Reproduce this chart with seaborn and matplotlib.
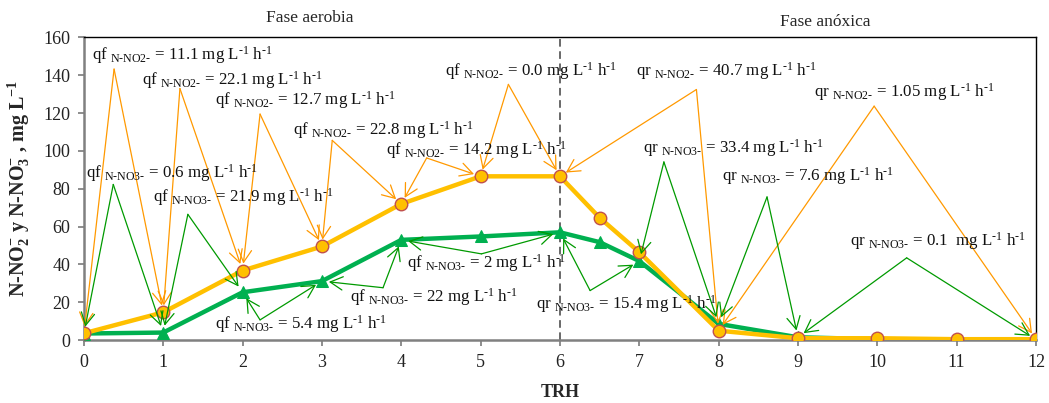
import pandas as pd
import seaborn as sns
import matplotlib.pyplot as plt

# ---- datos ----
trh = [0, 1, 2, 3, 4, 5, 6, 6.5, 7, 8, 9, 10, 11, 12]
no2 = [3.6, 14.7, 36.8, 49.5, 72.0, 86.6, 86.6, 64.7, 46.5, 5.0, 1.0, 1.0, 0.5, 0.5]
no3 = [3.5, 4.0, 25.3, 31.2, 53.0, 54.8, 57.0, 51.8, 41.8, 8.6, 1.5, 0.5, 0.3, 0.3]

# textos de las velocidades (NO2 naranja, NO3 verde)
no2_labels = ["qf", "qf", "qf", "qf", "qf", "qf", "qr", "qr"]
no2_rates = ["11.1", "22.1", "12.7", "22.8", "14.2", "0.0", "40.7", "1.05"]
no2_pairs = [(0, 1), (1, 2), (2, 3), (3, 4), (4, 5), (5, 6), (6, 9), (9, 13)]

no3_labels = ["qf", "qf", "qf", "qf", "qf", "qr", "qr", "qr", "qr"]
no3_rates = ["0.6", "21.9", "5.4", "22", "2", "15.4", "33.4", "7.6", "0.1 "]
no3_pairs = [(0, 1), (1, 2), (2, 3), (3, 4), (4, 6), (6, 8), (8, 9), (9, 10), (10, 13)]

# posiciones de los textos y vertices de las flechas (coordenadas de datos)
no2_text_pos = [(0.10, 150.7), (0.73, 137.5), (1.65, 126.9), (2.63, 111.0),
                (3.81, 100.4), (4.55, 142.3), (6.96, 142.3), (9.20, 131.1)]
no2_vertex = [(0.38, 143.3), (1.21, 133.0), (2.22, 119.5), (3.13, 105.6),
              (4.32, 96.3), (5.35, 135.2), (7.72, 132.5), (9.96, 123.7)]
no3_text_pos = [(0.025, 88.1), (0.87, 75.4), (1.65, 8.7), (3.35, 23.0), (4.07, 41.0),
                (5.70, 19.3), (7.05, 101.5), (8.04, 86.6), (9.66, 52.2)]
no3_vertex = [(0.37, 82.3), (1.31, 66.5), (2.22, 10.7), (3.77, 27.7), (5.01, 45.6),
              (6.38, 26.2), (7.31, 94.2), (8.61, 75.7), (10.37, 43.5)]

df = pd.DataFrame({"TRH": trh, "NO2": no2, "NO3": no3})

sns.set_theme(style="white")
plt.rcParams["font.family"] = ["Liberation Serif", "DejaVu Serif"]
plt.rcParams["mathtext.fontset"] = "custom"
plt.rcParams["mathtext.rm"] = "Liberation Serif"
plt.rcParams["mathtext.it"] = "Liberation Serif:italic"
plt.rcParams["mathtext.bf"] = "Liberation Serif:bold"

fig = plt.figure(figsize=(10.49, 4.03), dpi=100)
ax = fig.add_axes([0.080, 0.156, 0.9076, 0.751])

orange = "#FFC000"
green = "#00B050"
arrow_orange = "#FF9900"
arrow_green = "#009A00"

sns.lineplot(data=df, x="TRH", y="NO3", ax=ax, color=green, lw=3.2,
             marker="^", markersize=9, markeredgecolor=green, zorder=3)
sns.lineplot(data=df, x="TRH", y="NO2", ax=ax, color=orange, lw=3.2,
             marker="o", markersize=9, markeredgecolor="#C0504D",
             markeredgewidth=1.0, zorder=4)

ax.axvline(6, color="#404040", ls=(0, (5, 3)), lw=1.1, zorder=2)

ax.set_xlim(0, 12)
ax.set_ylim(0, 160)
ax.set_xticks(range(0, 13))
ax.set_yticks(range(0, 161, 20))
ax.tick_params(axis="both", labelsize=13, colors="#222222", length=4,
               direction="out", bottom=True, left=True, pad=6)
ax.tick_params(axis="both", color="#808080")
for s in ["left", "bottom"]:
    ax.spines[s].set_color("#808080")
    ax.spines[s].set_linewidth(1.8)
for s in ["top", "right"]:
    ax.spines[s].set_color("black")
    ax.spines[s].set_linewidth(1.0)

ax.set_xlabel("TRH", fontsize=13, fontweight="bold", labelpad=9)
ax.set_ylabel(r"N-NO$_{\mathbf{2}}^{\mathbf{-}}$ y N-NO$_{\mathbf{3}}^{\mathbf{-}}$ , mg L$^{\mathbf{-1}}$",
              fontsize=14.5, fontweight="bold", labelpad=8)


def rate_text(q, sp, val):
    return (q + r" $_{\text{" + sp + r"}}$ = " + val +
            r" mg L$^{\text{-1}}$ h$^{\text{-1}}$")


def draw_callouts(yvals, labels, rates, pairs, tpos, verts, species, col):
    for lab, val, (a, b), tp, v in zip(labels, rates, pairs, tpos, verts):
        ax.text(tp[0], tp[1], rate_text(lab, species, val), fontsize=12.2,
                ha="left", va="center", color="#111111", zorder=6)
        for i in (a, b):
            ax.annotate("", xy=(trh[i], yvals[i]), xytext=v,
                        arrowprops=dict(arrowstyle="->,head_length=0.75,head_width=0.4",
                                        color=col, lw=0.9, shrinkA=0, shrinkB=5),
                        zorder=5)


draw_callouts(no2, no2_labels, no2_rates, no2_pairs, no2_text_pos, no2_vertex,
              "N-NO2-", arrow_orange)
draw_callouts(no3, no3_labels, no3_rates, no3_pairs, no3_text_pos, no3_vertex,
              "N-NO3-", arrow_green)

fig.text(310 / 1049, 1 - 18 / 403, "Fase aerobia", fontsize=12.5, ha="center", va="center")
fig.text(825 / 1049, 1 - 22 / 403, "Fase anóxica", fontsize=12.5, ha="center", va="center")

fig.savefig("out.png", dpi=100)
plt.close(fig)
